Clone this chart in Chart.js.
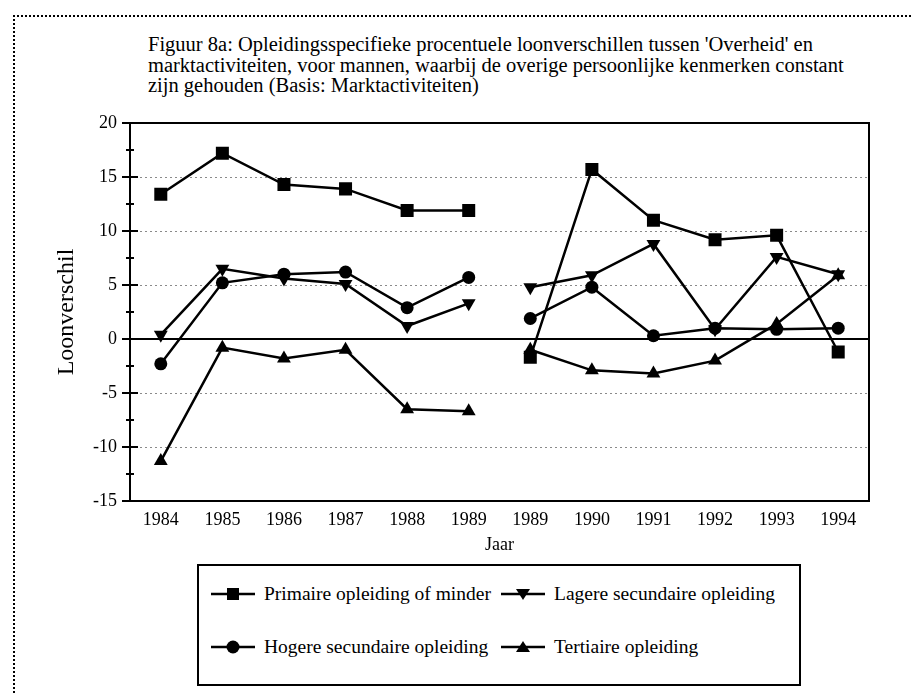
<!DOCTYPE html>
<html>
<head>
<meta charset="utf-8">
<script src="https://cdn.jsdelivr.net/npm/chart.js@4"></script>
<style>
html, body { margin: 0; padding: 0; background: #fff; }
body { width: 911px; height: 694px; position: relative; overflow: hidden; font-family: 'Liberation Serif', 'Times New Roman', serif; color: #000; }
#frame { position: absolute; left: 13px; top: 15px; width: 1000px; height: 800px; border-top: 2px dotted #000; border-left: 2px dotted #000; }
#title { position: absolute; left: 148px; top: 34px; font-size: 20.5px; line-height: 20.5px; white-space: nowrap; }
#chart { position: absolute; left: 0; top: 0; }
#legend { position: absolute; left: 197px; top: 564px; width: 600px; height: 118px; border: 2px solid #000; }
.item { position: absolute; height: 22px; font-size: 19.5px; display: flex; align-items: center; white-space: nowrap; }
.item svg { margin-right: 9px; }
</style>
</head>
<body>
<div id="frame"></div>
<div id="title">Figuur 8a: Opleidingsspecifieke procentuele loonverschillen tussen 'Overheid' en<br>marktactiviteiten, voor mannen, waarbij de overige persoonlijke kenmerken constant<br>zijn gehouden (Basis: Marktactiviteiten)</div>
<canvas id="chart" width="911" height="560"></canvas>
<div id="legend"></div>
<script>
// Loonverschil overheid vs. marktactiviteiten, mannen

// --- Data ---
const years = ['1984', '1985', '1986', '1987', '1988', '1989', '1989', '1990', '1991', '1992', '1993', '1994'];
const primaire = [13.4, 17.2, 14.3, 13.9, 11.9, 11.9, -1.7, 15.7, 11.0, 9.2, 9.6, -1.2];
const lagereSec = [0.4, 6.5, 5.6, 5.1, 1.2, 3.3, 4.8, 5.9, 8.8, 0.9, 7.6, 6.0];
const hogereSec = [-2.3, 5.2, 6.0, 6.2, 2.9, 5.7, 1.9, 4.8, 0.3, 1.0, 0.9, 1.0];
const tertiair = [-11.3, -0.8, -1.8, -1.0, -6.5, -6.7, -1.0, -2.9, -3.2, -2.0, 1.4, 5.9];
const seriesNames = ['Primaire opleiding of minder', 'Lagere secundaire opleiding', 'Hogere secundaire opleiding', 'Tertiaire opleiding'];
const yMin = -15, yMax = 20, yStep = 5;
const breakAfter = 5; // tussen de twee reeksen van 1989 geen lijn

const serif = "'Liberation Serif', 'Times New Roman', serif";

// assen, nullijn en kader
const framePlugin = {
    id: 'frame',
    beforeDatasetsDraw(chart) {
        const { ctx, chartArea: a, scales: { y } } = chart;
        ctx.save();
        ctx.strokeStyle = '#000';
        ctx.lineWidth = 2;
        const y0 = y.getPixelForValue(0);
        ctx.beginPath();
        ctx.moveTo(a.left, y0);
        ctx.lineTo(a.right, y0);
        ctx.stroke();
        ctx.strokeRect(a.left, a.top, a.right - a.left, a.bottom - a.top);
        for (let v = yMin; v <= yMax; v += yStep / 2) {
            const py = y.getPixelForValue(v);
            const len = v % yStep === 0 ? 8 : 4;
            ctx.beginPath();
            ctx.moveTo(a.left - len, py);
            ctx.lineTo(a.left + len, py);
            ctx.stroke();
        }
        ctx.restore();
    }
};

function makeDataset(label, data, pointStyle, radius, rotation) {
    return {
        label,
        data,
        borderColor: '#000',
        borderWidth: 2.5,
        backgroundColor: '#000',
        pointBackgroundColor: '#000',
        pointBorderColor: '#000',
        pointBorderWidth: 0,
        pointStyle,
        pointRadius: radius,
        pointRotation: rotation || 0,
        tension: 0,
        segment: {
            borderColor: c => c.p0DataIndex === breakAfter ? 'rgba(0,0,0,0)' : undefined
        }
    };
}

Chart.defaults.font.family = serif;
Chart.defaults.color = '#000';

new Chart(document.getElementById('chart').getContext('2d'), {
    type: 'line',
    data: {
        labels: years,
        datasets: [
            makeDataset(seriesNames[0], primaire, 'rect', 9.2),
            makeDataset(seriesNames[1], lagereSec, 'triangle', 8, 180),
            makeDataset(seriesNames[2], hogereSec, 'circle', 6.5),
            makeDataset(seriesNames[3], tertiair, 'triangle', 8)
        ]
    },
    options: {
        responsive: false,
        animation: false,
        devicePixelRatio: 1,
        layout: { padding: { left: 0, top: 123, right: 42, bottom: 4 } },
        plugins: { legend: { display: false }, tooltip: { enabled: false } },
        scales: {
            x: {
                offset: true,
                grid: { display: false, drawTicks: false },
                border: { display: false },
                ticks: { color: '#000', font: { size: 18 }, padding: 8, autoSkip: false, maxRotation: 0 },
                title: { display: true, text: 'Jaar', color: '#000', font: { size: 18 }, padding: 0 },
                afterFit: s => { s.height = 55; }
            },
            y: {
                min: yMin,
                max: yMax,
                ticks: { stepSize: yStep, color: '#000', font: { size: 18 }, padding: 13 },
                grid: {
                    drawTicks: false,
                    lineWidth: 1,
                    color: c => (c.tick.value === 0 || c.tick.value === yMin || c.tick.value === yMax) ? 'rgba(0,0,0,0)' : '#8a8a8a'
                },
                border: { display: false, dash: [2, 3] },
                title: { display: true, text: 'Loonverschil', color: '#000', font: { size: 24 }, padding: { top: 52, bottom: 0 } },
                afterFit: s => { s.width = 130; }
            }
        }
    },
    plugins: [framePlugin]
});

// --- Legenda ---
function symbolSvg(idx) {
    let mark = '';
    if (idx === 0) mark = '<rect x="16" y="2" width="12" height="12" fill="#000"/>';
    if (idx === 1) mark = '<polygon points="15,3 29,3 22,14" fill="#000"/>';
    if (idx === 2) mark = '<circle cx="22" cy="8" r="6.5" fill="#000"/>';
    if (idx === 3) mark = '<polygon points="15,13 29,13 22,2" fill="#000"/>';
    return '<svg width="44" height="16" viewBox="0 0 44 16"><line x1="0" y1="8" x2="44" y2="8" stroke="#000" stroke-width="2.5"/>' + mark + '</svg>';
}

const legendPos = [[12, 17], [302, 17], [12, 70], [302, 70]];
const legend = document.getElementById('legend');
seriesNames.forEach((name, i) => {
    const div = document.createElement('div');
    div.className = 'item';
    div.style.left = legendPos[i][0] + 'px';
    div.style.top = legendPos[i][1] + 'px';
    div.innerHTML = symbolSvg(i) + '<span>' + name + '</span>';
    legend.appendChild(div);
});
</script>
</body>
</html>
